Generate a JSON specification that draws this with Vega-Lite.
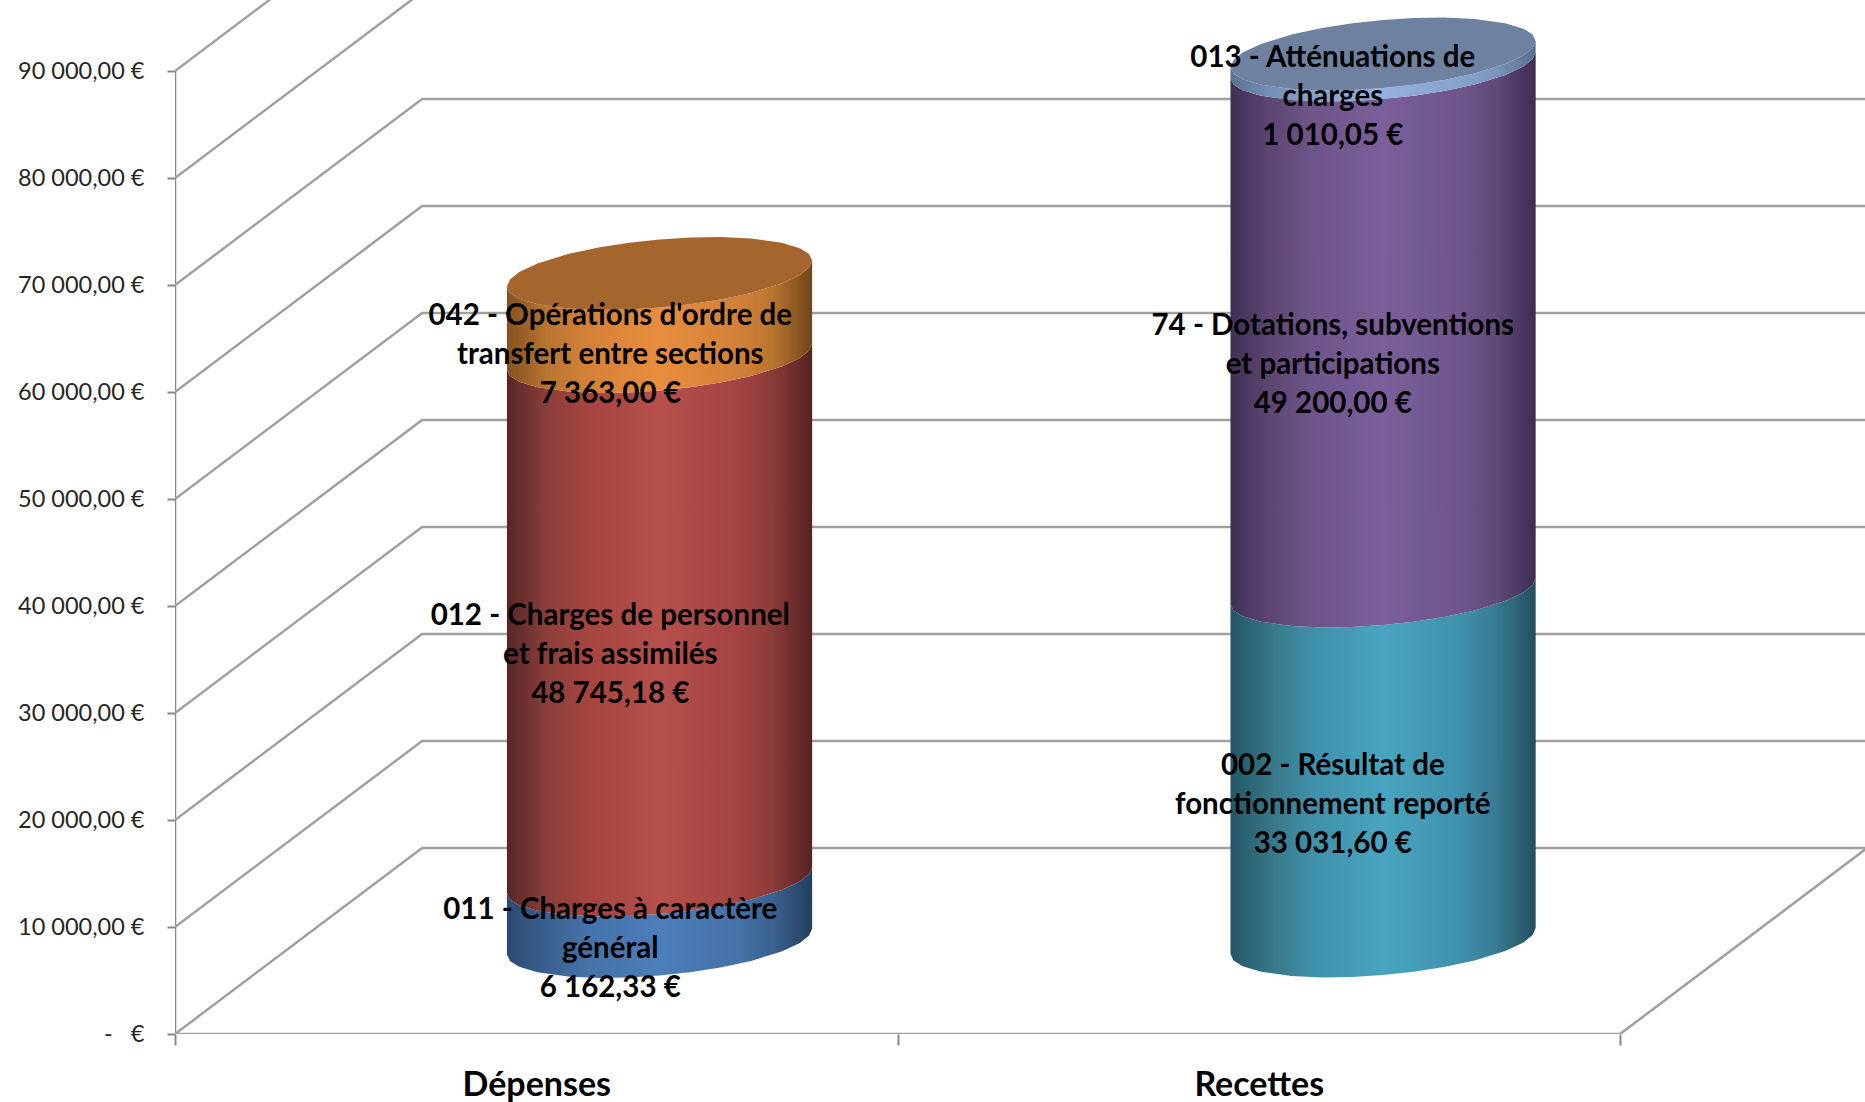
{
"$schema":"https://vega.github.io/schema/vega-lite/v6.json",
"width":1690,"height":1034,
"autosize":{"type":"none"},
"padding":{"left":175,"top":0,"right":0,"bottom":68},
"background":"white",
"config":{"view":{"stroke":null}},
"datasets":{
"labels":[
{"category":"Dépenses","pos":0.5,"chapter":"011","order":1,"value":6162.33,"label":"011 - Charges à caractère\ngénéral\n6 162,33 €"},
{"category":"Dépenses","pos":0.5,"chapter":"012","order":2,"value":48745.18,"label":"012 - Charges de personnel\net frais assimilés\n48 745,18 €"},
{"category":"Dépenses","pos":0.5,"chapter":"042","order":3,"value":7363.00,"label":"042 - Opérations d'ordre de\ntransfert entre sections\n7 363,00 €"},
{"category":"Recettes","pos":1.5,"chapter":"002","order":1,"value":33031.60,"label":"002 - Résultat de\nfonctionnement reporté\n33 031,60 €"},
{"category":"Recettes","pos":1.5,"chapter":"74","order":2,"value":49200.00,"label":"74 - Dotations, subventions\net participations\n49 200,00 €"},
{"category":"Recettes","pos":1.5,"chapter":"013","order":3,"value":1010.05,"label":"013 - Atténuations de\ncharges\n1 010,05 €"}
],
"grid":[
{"level":"axis","i":0,"x":0,"v":0},{"level":"axis","i":1,"x":0,"v":90000},
{"level":"0","i":0,"x":0,"v":0},{"level":"0","i":1,"x":0.342,"v":17383},{"level":"0","i":2,"x":2.342,"v":17383},{"level":"0","i":3,"x":2,"v":0},{"level":"0","i":4,"x":0,"v":0},
{"level":"1","i":0,"x":0,"v":10000},{"level":"1","i":1,"x":0.342,"v":27383},{"level":"1","i":2,"x":2.342,"v":27383},
{"level":"2","i":0,"x":0,"v":20000},{"level":"2","i":1,"x":0.342,"v":37383},{"level":"2","i":2,"x":2.342,"v":37383},
{"level":"3","i":0,"x":0,"v":30000},{"level":"3","i":1,"x":0.342,"v":47383},{"level":"3","i":2,"x":2.342,"v":47383},
{"level":"4","i":0,"x":0,"v":40000},{"level":"4","i":1,"x":0.342,"v":57383},{"level":"4","i":2,"x":2.342,"v":57383},
{"level":"5","i":0,"x":0,"v":50000},{"level":"5","i":1,"x":0.342,"v":67383},{"level":"5","i":2,"x":2.342,"v":67383},
{"level":"6","i":0,"x":0,"v":60000},{"level":"6","i":1,"x":0.342,"v":77383},{"level":"6","i":2,"x":2.342,"v":77383},
{"level":"7","i":0,"x":0,"v":70000},{"level":"7","i":1,"x":0.342,"v":87383},{"level":"7","i":2,"x":2.342,"v":87383},
{"level":"8","i":0,"x":0,"v":80000},{"level":"8","i":1,"x":0.342,"v":97383},
{"level":"9","i":0,"x":0,"v":90000},{"level":"9","i":1,"x":0.342,"v":107383}
],
"cyl":[
{"s":"blue","x":0.4594,"lo":7430,"hi":13178},{"s":"blue","x":0.4636,"lo":6823,"hi":12571},{"s":"blue","x":0.4763,"lo":6281,"hi":12029},{"s":"blue","x":0.5016,"lo":5767,"hi":11515},{"s":"blue","x":0.5439,"lo":5374,"hi":11122},{"s":"blue","x":0.5861,"lo":5243,"hi":10991},{"s":"blue","x":0.6284,"lo":5290,"hi":11038},{"s":"blue","x":0.6706,"lo":5467,"hi":11215},{"s":"blue","x":0.7128,"lo":5776,"hi":11524},{"s":"blue","x":0.7551,"lo":6215,"hi":11963},{"s":"blue","x":0.7973,"lo":6832,"hi":12580},{"s":"blue","x":0.8396,"lo":7710,"hi":13458},{"s":"blue","x":0.8649,"lo":8514,"hi":14262},{"s":"blue","x":0.8776,"lo":9206,"hi":14954},{"s":"blue","x":0.8818,"lo":9860,"hi":15608},
{"s":"red","x":0.4594,"lo":13178,"hi":62103},{"s":"red","x":0.4636,"lo":12571,"hi":61496},{"s":"red","x":0.4763,"lo":12029,"hi":60954},{"s":"red","x":0.5016,"lo":11515,"hi":60440},{"s":"red","x":0.5439,"lo":11122,"hi":60047},{"s":"red","x":0.5861,"lo":10991,"hi":59916},{"s":"red","x":0.6284,"lo":11038,"hi":59963},{"s":"red","x":0.6706,"lo":11215,"hi":60140},{"s":"red","x":0.7128,"lo":11524,"hi":60449},{"s":"red","x":0.7551,"lo":11963,"hi":60888},{"s":"red","x":0.7973,"lo":12580,"hi":61505},{"s":"red","x":0.8396,"lo":13458,"hi":62383},{"s":"red","x":0.8649,"lo":14262,"hi":63187},{"s":"red","x":0.8776,"lo":14954,"hi":63879},{"s":"red","x":0.8818,"lo":15608,"hi":64533},
{"s":"orange","x":0.4594,"lo":62103,"hi":69860},{"s":"orange","x":0.4636,"lo":61496,"hi":69253},{"s":"orange","x":0.4763,"lo":60954,"hi":68711},{"s":"orange","x":0.5016,"lo":60440,"hi":68197},{"s":"orange","x":0.5439,"lo":60047,"hi":67804},{"s":"orange","x":0.5861,"lo":59916,"hi":67673},{"s":"orange","x":0.6284,"lo":59963,"hi":67720},{"s":"orange","x":0.6706,"lo":60140,"hi":67897},{"s":"orange","x":0.7128,"lo":60449,"hi":68206},{"s":"orange","x":0.7551,"lo":60888,"hi":68645},{"s":"orange","x":0.7973,"lo":61505,"hi":69262},{"s":"orange","x":0.8396,"lo":62383,"hi":70140},{"s":"orange","x":0.8649,"lo":63187,"hi":70944},{"s":"orange","x":0.8776,"lo":63879,"hi":71636},{"s":"orange","x":0.8818,"lo":64533,"hi":72290},
{"s":"orangecap","x":0.4594,"lo":69860,"hi":69860},{"s":"orangecap","x":0.4636,"lo":69253,"hi":70514},{"s":"orangecap","x":0.4763,"lo":68711,"hi":71206},{"s":"orangecap","x":0.5016,"lo":68197,"hi":72010},{"s":"orangecap","x":0.5439,"lo":67804,"hi":72888},{"s":"orangecap","x":0.5861,"lo":67673,"hi":73505},{"s":"orangecap","x":0.6284,"lo":67720,"hi":73944},{"s":"orangecap","x":0.6706,"lo":67897,"hi":74253},{"s":"orangecap","x":0.7128,"lo":68206,"hi":74430},{"s":"orangecap","x":0.7551,"lo":68645,"hi":74477},{"s":"orangecap","x":0.7973,"lo":69262,"hi":74346},{"s":"orangecap","x":0.8396,"lo":70140,"hi":73953},{"s":"orangecap","x":0.8649,"lo":70944,"hi":73439},{"s":"orangecap","x":0.8776,"lo":71636,"hi":72897},{"s":"orangecap","x":0.8818,"lo":72290,"hi":72290},
{"s":"teal","x":1.4608,"lo":7477,"hi":40187},{"s":"teal","x":1.4650,"lo":6870,"hi":39580},{"s":"teal","x":1.4777,"lo":6328,"hi":39038},{"s":"teal","x":1.5030,"lo":5814,"hi":38524},{"s":"teal","x":1.5453,"lo":5421,"hi":38131},{"s":"teal","x":1.5875,"lo":5290,"hi":38000},{"s":"teal","x":1.6298,"lo":5337,"hi":38047},{"s":"teal","x":1.6720,"lo":5514,"hi":38224},{"s":"teal","x":1.7142,"lo":5823,"hi":38533},{"s":"teal","x":1.7565,"lo":6262,"hi":38972},{"s":"teal","x":1.7987,"lo":6879,"hi":39589},{"s":"teal","x":1.8410,"lo":7757,"hi":40467},{"s":"teal","x":1.8663,"lo":8561,"hi":41271},{"s":"teal","x":1.8790,"lo":9253,"hi":41963},{"s":"teal","x":1.8832,"lo":9907,"hi":42617},
{"s":"purple","x":1.4608,"lo":40187,"hi":89346},{"s":"purple","x":1.4650,"lo":39580,"hi":88739},{"s":"purple","x":1.4777,"lo":39038,"hi":88197},{"s":"purple","x":1.5030,"lo":38524,"hi":87683},{"s":"purple","x":1.5453,"lo":38131,"hi":87290},{"s":"purple","x":1.5875,"lo":38000,"hi":87159},{"s":"purple","x":1.6298,"lo":38047,"hi":87206},{"s":"purple","x":1.6720,"lo":38224,"hi":87383},{"s":"purple","x":1.7142,"lo":38533,"hi":87692},{"s":"purple","x":1.7565,"lo":38972,"hi":88131},{"s":"purple","x":1.7987,"lo":39589,"hi":88748},{"s":"purple","x":1.8410,"lo":40467,"hi":89626},{"s":"purple","x":1.8663,"lo":41271,"hi":90430},{"s":"purple","x":1.8790,"lo":41963,"hi":91122},{"s":"purple","x":1.8832,"lo":42617,"hi":91776},
{"s":"band","x":1.4608,"lo":89346,"hi":90374},{"s":"band","x":1.4650,"lo":88739,"hi":89767},{"s":"band","x":1.4777,"lo":88197,"hi":89225},{"s":"band","x":1.5030,"lo":87683,"hi":88711},{"s":"band","x":1.5453,"lo":87290,"hi":88318},{"s":"band","x":1.5875,"lo":87159,"hi":88187},{"s":"band","x":1.6298,"lo":87206,"hi":88234},{"s":"band","x":1.6720,"lo":87383,"hi":88411},{"s":"band","x":1.7142,"lo":87692,"hi":88720},{"s":"band","x":1.7565,"lo":88131,"hi":89159},{"s":"band","x":1.7987,"lo":88748,"hi":89776},{"s":"band","x":1.8410,"lo":89626,"hi":90654},{"s":"band","x":1.8663,"lo":90430,"hi":91458},{"s":"band","x":1.8790,"lo":91122,"hi":92150},{"s":"band","x":1.8832,"lo":91776,"hi":92804},
{"s":"bandcap","x":1.4608,"lo":90374,"hi":90374},{"s":"bandcap","x":1.4650,"lo":89767,"hi":91028},{"s":"bandcap","x":1.4777,"lo":89225,"hi":91720},{"s":"bandcap","x":1.5030,"lo":88711,"hi":92524},{"s":"bandcap","x":1.5453,"lo":88318,"hi":93402},{"s":"bandcap","x":1.5875,"lo":88187,"hi":94019},{"s":"bandcap","x":1.6298,"lo":88234,"hi":94458},{"s":"bandcap","x":1.6720,"lo":88411,"hi":94767},{"s":"bandcap","x":1.7142,"lo":88720,"hi":94944},{"s":"bandcap","x":1.7565,"lo":89159,"hi":94991},{"s":"bandcap","x":1.7987,"lo":89776,"hi":94860},{"s":"bandcap","x":1.8410,"lo":90654,"hi":94467},{"s":"bandcap","x":1.8663,"lo":91458,"hi":93953},{"s":"bandcap","x":1.8790,"lo":92150,"hi":93411},{"s":"bandcap","x":1.8832,"lo":92804,"hi":92804}
]
},
"resolve":{"axis":{"x":"independent","y":"independent"}},
"layer":[
{"data":{"name":"grid"},
 "mark":{"type":"line","strokeWidth":2.5,"clip":true},
 "encoding":{
  "x":{"field":"x","type":"quantitative","scale":{"domain":[0,2.339],"nice":false,"zero":false},
   "axis":{"orient":"bottom","values":[0,1,2],"labels":false,"domain":false,"grid":false,"title":null,"ticks":true,"tickSize":11,"tickWidth":2,"tickColor":"#868686"}},
  "y":{"field":"v","type":"quantitative","scale":{"domain":[0,96636],"nice":false,"zero":false},
   "axis":{"orient":"left","values":[0,10000,20000,30000,40000,50000,60000,70000,80000,90000],"domain":false,"grid":false,"title":null,"tickSize":8,"tickWidth":2,"tickColor":"#868686","labelPadding":23,"labelFont":"Lato","labelFontSize":23.5,"labelColor":"#262626","labelExpr":"datum.value===0?'-\u00a0\u00a0\u00a0€':replace(replace(format(datum.value,',.2f'),',',' '),'.',',')+' €'"}},
  "detail":{"field":"level"},
  "order":{"field":"i"},
  "color":{"condition":{"test":"datum.level==='axis'","value":"#868686"},"value":"#A0A0A0"}
 }},
{"data":{"name":"cyl"},"transform":[{"filter":"datum.s==='blue'"}],
 "mark":{"type":"area","color":{"gradient":"linear","x1":0,"y1":0,"x2":1,"y2":0,"stops":[{"offset":0,"color":"#2B4A72"},{"offset":0.13,"color":"#3A6090"},{"offset":0.26,"color":"#4472A8"},{"offset":0.5,"color":"#4D7EBA"},{"offset":0.76,"color":"#4472A8"},{"offset":0.87,"color":"#3A6290"},{"offset":1,"color":"#233F60"}]}},
 "encoding":{"x":{"field":"x","type":"quantitative","scale":{"domain":[0,2.339],"nice":false,"zero":false},"axis":null},"y":{"field":"lo","type":"quantitative","scale":{"domain":[0,96636],"nice":false,"zero":false},"axis":null},"y2":{"field":"hi"}}},
{"data":{"name":"cyl"},"transform":[{"filter":"datum.s==='red'"}],
 "mark":{"type":"area","color":{"gradient":"linear","x1":0,"y1":0,"x2":1,"y2":0,"stops":[{"offset":0,"color":"#582626"},{"offset":0.13,"color":"#8A3F3B"},{"offset":0.26,"color":"#A5443F"},{"offset":0.5,"color":"#B5504C"},{"offset":0.76,"color":"#A34442"},{"offset":0.87,"color":"#8C3B39"},{"offset":1,"color":"#552222"}]}},
 "encoding":{"x":{"field":"x","type":"quantitative","scale":{"domain":[0,2.339],"nice":false,"zero":false},"axis":null},"y":{"field":"lo","type":"quantitative","scale":{"domain":[0,96636],"nice":false,"zero":false},"axis":null},"y2":{"field":"hi"}}},
{"data":{"name":"cyl"},"transform":[{"filter":"datum.s==='orange'"}],
 "mark":{"type":"area","color":{"gradient":"linear","x1":0,"y1":0,"x2":1,"y2":0,"stops":[{"offset":0,"color":"#85521F"},{"offset":0.13,"color":"#B87430"},{"offset":0.26,"color":"#D38138"},{"offset":0.5,"color":"#E88D3F"},{"offset":0.76,"color":"#D28038"},{"offset":0.87,"color":"#B9752F"},{"offset":1,"color":"#70451A"}]}},
 "encoding":{"x":{"field":"x","type":"quantitative","scale":{"domain":[0,2.339],"nice":false,"zero":false},"axis":null},"y":{"field":"lo","type":"quantitative","scale":{"domain":[0,96636],"nice":false,"zero":false},"axis":null},"y2":{"field":"hi"}}},
{"data":{"name":"cyl"},"transform":[{"filter":"datum.s==='orangecap'"}],
 "mark":{"type":"area","color":"#A5662E"},
 "encoding":{"x":{"field":"x","type":"quantitative","scale":{"domain":[0,2.339],"nice":false,"zero":false},"axis":null},"y":{"field":"lo","type":"quantitative","scale":{"domain":[0,96636],"nice":false,"zero":false},"axis":null},"y2":{"field":"hi"}}},
{"data":{"name":"cyl"},"transform":[{"filter":"datum.s==='teal'"}],
 "mark":{"type":"area","color":{"gradient":"linear","x1":0,"y1":0,"x2":1,"y2":0,"stops":[{"offset":0,"color":"#235666"},{"offset":0.13,"color":"#377686"},{"offset":0.26,"color":"#3F8FA9"},{"offset":0.5,"color":"#48A5BF"},{"offset":0.76,"color":"#3F90AC"},{"offset":0.87,"color":"#3A7A92"},{"offset":1,"color":"#214F60"}]}},
 "encoding":{"x":{"field":"x","type":"quantitative","scale":{"domain":[0,2.339],"nice":false,"zero":false},"axis":null},"y":{"field":"lo","type":"quantitative","scale":{"domain":[0,96636],"nice":false,"zero":false},"axis":null},"y2":{"field":"hi"}}},
{"data":{"name":"cyl"},"transform":[{"filter":"datum.s==='purple'"}],
 "mark":{"type":"area","color":{"gradient":"linear","x1":0,"y1":0,"x2":1,"y2":0,"stops":[{"offset":0,"color":"#3F3055"},{"offset":0.13,"color":"#5E4673"},{"offset":0.26,"color":"#6D5489"},{"offset":0.5,"color":"#7A5F9A"},{"offset":0.76,"color":"#6E558B"},{"offset":0.87,"color":"#604A78"},{"offset":1,"color":"#3E2D52"}]}},
 "encoding":{"x":{"field":"x","type":"quantitative","scale":{"domain":[0,2.339],"nice":false,"zero":false},"axis":null},"y":{"field":"lo","type":"quantitative","scale":{"domain":[0,96636],"nice":false,"zero":false},"axis":null},"y2":{"field":"hi"}}},
{"data":{"name":"cyl"},"transform":[{"filter":"datum.s==='band'"}],
 "mark":{"type":"area","color":{"gradient":"linear","x1":0,"y1":0,"x2":1,"y2":0,"stops":[{"offset":0,"color":"#5C7193"},{"offset":0.13,"color":"#748FB5"},{"offset":0.26,"color":"#86A1CC"},{"offset":0.5,"color":"#95B0DE"},{"offset":0.76,"color":"#86A1CC"},{"offset":0.87,"color":"#7A94BC"},{"offset":1,"color":"#5A6E8E"}]}},
 "encoding":{"x":{"field":"x","type":"quantitative","scale":{"domain":[0,2.339],"nice":false,"zero":false},"axis":null},"y":{"field":"lo","type":"quantitative","scale":{"domain":[0,96636],"nice":false,"zero":false},"axis":null},"y2":{"field":"hi"}}},
{"data":{"name":"cyl"},"transform":[{"filter":"datum.s==='bandcap'"}],
 "mark":{"type":"area","color":"#6E81A1"},
 "encoding":{"x":{"field":"x","type":"quantitative","scale":{"domain":[0,2.339],"nice":false,"zero":false},"axis":null},"y":{"field":"lo","type":"quantitative","scale":{"domain":[0,96636],"nice":false,"zero":false},"axis":null},"y2":{"field":"hi"}}},
{"data":{"name":"labels"},
 "mark":{"type":"text","font":"Lato","fontWeight":"bold","fontSize":29.5,"color":"black","lineBreak":"\n","lineHeight":39,"align":"center","baseline":"middle","dx":74,"dy":-91},
 "encoding":{
  "x":{"field":"pos","type":"quantitative","scale":{"domain":[0,2.339],"nice":false,"zero":false},
   "axis":{"orient":"bottom","values":[0.5,1.5],"ticks":false,"domain":false,"grid":false,"title":null,"labelPadding":34,"labelFont":"Lato","labelFontWeight":"bold","labelFontSize":34,"labelColor":"black","labelExpr":"datum.value===0.5?'Dépenses':'Recettes'"}},
  "y":{"field":"value","type":"quantitative","stack":"zero","bandPosition":0.5,"scale":{"domain":[0,96636],"nice":false,"zero":false},"axis":null},
  "detail":{"field":"chapter"},
  "order":{"field":"order"},
  "text":{"field":"label"}
 }}
]
}
